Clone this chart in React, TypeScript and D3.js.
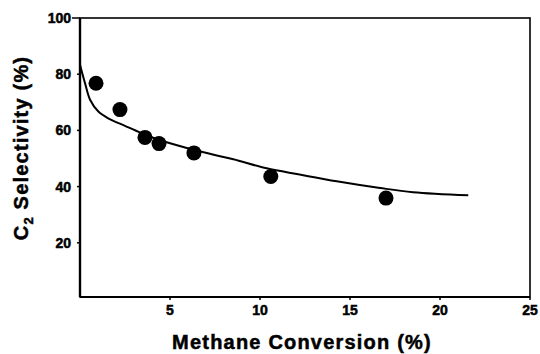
import * as d3 from "d3";

// measured points
const conversion = [0.89, 2.22, 3.61, 4.39, 6.33, 10.6, 17.0];
const selectivity = [76.8, 67.4, 57.5, 55.3, 52.0, 43.6, 35.9];

// fitted curve
const curveX = [0.0, 0.28, 0.56, 1.02, 1.57, 2.5, 3.43, 4.54, 5.83, 7.32, 8.52, 10.37, 12.2, 14.26, 16.67, 18.5, 21.57];
const curveY = [83.4, 76.8, 70.9, 66.7, 64.3, 61.6, 59.0, 56.3, 53.9, 51.5, 49.7, 46.5, 44.3, 41.9, 39.5, 38.0, 36.9];

const xTicks = [5, 10, 15, 20, 25];
const yTicks = [20, 40, 60, 80, 100];

const width = 540;
const height = 354;
const margin = { top: 18, right: 10, bottom: 57, left: 80 };
const font = "'Liberation Sans', Arial, Helvetica, sans-serif";

export default function App() {
    const x = d3.scaleLinear().domain([0, 25]).range([margin.left, width - margin.right]);
    const y = d3.scaleLinear().domain([0, 100]).range([height - margin.bottom + 2, margin.top]);

    const bottom = height - margin.bottom;

    const line = d3
        .line<number>()
        .x((d) => x(d))
        .y((_, i) => y(curveY[i]))
        .curve(d3.curveCatmullRom.alpha(0.5));

    return (
        <svg
            width={width}
            height={height}
            style={{ position: "absolute", left: 0, top: 0, background: "#fff" }}
            fontFamily={font}
        >
            {/* frame */}
            <rect
                x={margin.left}
                y={margin.top}
                width={width - margin.left - margin.right}
                height={bottom - margin.top}
                fill="none"
                stroke="#000"
                strokeWidth={1.6}
            />
            <line x1={margin.left} x2={margin.left} y1={margin.top} y2={bottom} stroke="#000" strokeWidth={2.4} />
            <line x1={margin.left} x2={width - margin.right} y1={bottom} y2={bottom} stroke="#000" strokeWidth={2.2} />

            {/* y ticks */}
            {yTicks.map((t) => (
                <g key={"y" + t}>
                    <line
                        x1={t === 100 ? margin.left - 8 : margin.left - 3}
                        x2={margin.left}
                        y1={y(t)}
                        y2={y(t)}
                        stroke="#000"
                        strokeWidth={1.5}
                    />
                    <text
                        x={margin.left - 9}
                        y={y(t)}
                        dy="0.36em"
                        textAnchor="end"
                        fontSize={14}
                        fontWeight="bold"
                        stroke="#000"
                        strokeWidth={0.5}
                    >
                        {t}
                    </text>
                </g>
            ))}

            {/* x ticks */}
            {xTicks.map((t) => (
                <g key={"x" + t}>
                    <line x1={x(t)} x2={x(t)} y1={bottom} y2={bottom + 3} stroke="#000" strokeWidth={1.5} />
                    <text
                        x={x(t)}
                        y={315}
                        textAnchor="middle"
                        fontSize={14}
                        fontWeight="bold"
                        stroke="#000"
                        strokeWidth={0.5}
                    >
                        {t}
                    </text>
                </g>
            ))}

            {/* curve */}
            <path d={line(curveX) ?? ""} fill="none" stroke="#000" strokeWidth={2} />

            {/* points */}
            {conversion.map((c, i) => (
                <circle key={i} cx={x(c)} cy={y(selectivity[i])} r={7.5} fill="#000" />
            ))}

            {/* axis titles */}
            <text
                x={302}
                y={349}
                textAnchor="middle"
                fontSize={20}
                fontWeight="bold"
                letterSpacing={1.2}
                stroke="#000"
                strokeWidth={0.5}
            >
                Methane Conversion (%)
            </text>
            <text
                transform={`translate(21,148) rotate(-90)`}
                textAnchor="middle"
                dy="0.36em"
                fontSize={20}
                fontWeight="bold"
                letterSpacing={1.2}
                stroke="#000"
                strokeWidth={0.5}
            >
                C<tspan fontSize={13} dy="5">2</tspan>
                <tspan dy="-5"> Selectivity (%)</tspan>
            </text>
        </svg>
    );
}
